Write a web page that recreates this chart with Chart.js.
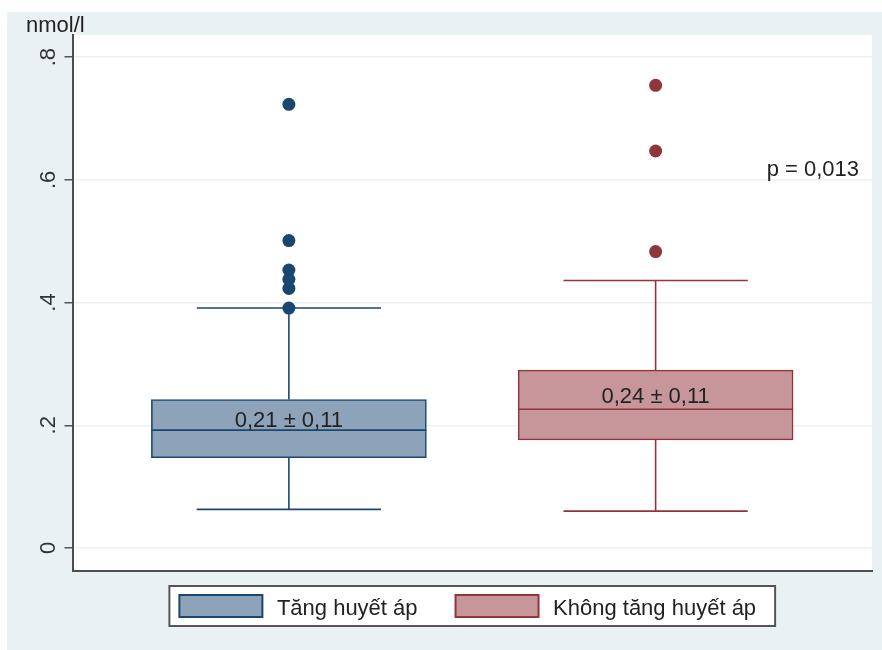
<!DOCTYPE html>
<html>
<head>
<meta charset="utf-8">
<script src="https://cdn.jsdelivr.net/npm/chart.js@4/dist/chart.umd.min.js"></script>
<style>
  html, body { margin: 0; padding: 0; background: #fff; }
  #wrap { width: 882px; height: 650px; }
</style>
</head>
<body>
<div id="wrap"><canvas id="boxChart" width="882" height="650"></canvas></div>
<script>
// groups and box-plot values (nmol/l)
const groups = ['Tăng huyết áp', 'Không tăng huyết áp'];
const xPos = [1, 2];
const lowerWhisker = [0.063, 0.060];
const q1 = [0.147, 0.176];
const median = [0.192, 0.226];
const q3 = [0.242, 0.290];
const upperWhisker = [0.391, 0.436];
const outliersHtn = [0.723, 0.501, 0.453, 0.438, 0.423, 0.391];
const outliersNoHtn = [0.754, 0.647, 0.483];
const meanLabels = ['0,21 ± 0,11', '0,24 ± 0,11'];
const meanLabelY = [0.21, 0.249];
const pValueText = 'p = 0,013';
const yUnit = 'nmol/l';
const yTicks = [0, 0.2, 0.4, 0.6, 0.8];
const yTickLabels = ['0', '.2', '.4', '.6', '.8'];

const lineColors = ['#1a476f', '#90353b'];
const fillColors = ['#8ca3b9', '#c7969a'];
const FONT = '22px "Liberation Sans", Arial, sans-serif';

const boxPlotPlugin = {
    id: 'boxPlot',
    beforeDraw(chart) {
        const ctx = chart.ctx;
        const a = chart.chartArea;
        ctx.save();
        ctx.fillStyle = '#ffffff';
        ctx.fillRect(0, 0, chart.width, chart.height);
        ctx.fillStyle = '#eaf1f3';
        ctx.fillRect(7, 12, chart.width - 7, chart.height - 12);
        ctx.fillStyle = '#ffffff';
        ctx.fillRect(a.left, a.top, a.right - a.left, a.bottom - a.top);
        ctx.restore();
    },
    beforeDatasetsDraw(chart) {
        // whiskers and caps
        const ctx = chart.ctx;
        const xs = chart.scales.x, ys = chart.scales.y;
        ctx.save();
        ctx.lineWidth = 1.6;
        groups.forEach((g, i) => {
            const bar = chart.getDatasetMeta(2 + i).data[0];
            const x = xs.getPixelForValue(xPos[i]);
            const half = bar.width * 0.335;
            const yu = ys.getPixelForValue(upperWhisker[i]);
            const yl = ys.getPixelForValue(lowerWhisker[i]);
            ctx.strokeStyle = lineColors[i];
            ctx.beginPath();
            ctx.moveTo(x, ys.getPixelForValue(q3[i]));
            ctx.lineTo(x, yu);
            ctx.moveTo(x, ys.getPixelForValue(q1[i]));
            ctx.lineTo(x, yl);
            ctx.moveTo(x - half, yu);
            ctx.lineTo(x + half, yu);
            ctx.moveTo(x - half, yl);
            ctx.lineTo(x + half, yl);
            ctx.stroke();
        });
        ctx.restore();
    },
    afterDatasetsDraw(chart) {
        const ctx = chart.ctx;
        const xs = chart.scales.x, ys = chart.scales.y;
        const a = chart.chartArea;
        ctx.save();
        // median lines + mean labels
        groups.forEach((g, i) => {
            const bar = chart.getDatasetMeta(2 + i).data[0];
            const y = ys.getPixelForValue(median[i]);
            ctx.strokeStyle = lineColors[i];
            ctx.lineWidth = 1.6;
            ctx.beginPath();
            ctx.moveTo(bar.x - bar.width / 2, y);
            ctx.lineTo(bar.x + bar.width / 2, y);
            ctx.stroke();
            ctx.fillStyle = '#222';
            ctx.font = FONT;
            ctx.textAlign = 'center';
            ctx.textBaseline = 'alphabetic';
            ctx.fillText(meanLabels[i], xs.getPixelForValue(xPos[i]), ys.getPixelForValue(meanLabelY[i]) + 8);
        });

        // y tick labels, rotated
        ctx.fillStyle = '#333';
        ctx.font = FONT;
        yTicks.forEach((v, i) => {
            const y = ys.getPixelForValue(v);
            ctx.save();
            ctx.translate(a.left - 17.5, y);
            ctx.rotate(-Math.PI / 2);
            ctx.textAlign = 'center';
            ctx.textBaseline = 'alphabetic';
            ctx.fillText(yTickLabels[i], 0, 0);
            ctx.restore();
        });

        // unit and p value
        ctx.fillStyle = '#222';
        ctx.textAlign = 'left';
        ctx.textBaseline = 'alphabetic';
        ctx.fillText(yUnit, 26, 32);
        ctx.textAlign = 'right';
        ctx.fillText(pValueText, a.right - 13, ys.getPixelForValue(0.607));

        // legend
        ctx.font = FONT;
        const sw = 83, sh = 22, gapText = 14.5, gapItem = 38, padL = 10, padR = 19;
        const widths = groups.map(t => ctx.measureText(t).width);
        let total = padL + padR + gapItem;
        widths.forEach(w => { total += sw + gapText + w; });
        const left = (a.left + a.right) / 2 - total / 2;
        const top = 586, h = 40;
        ctx.fillStyle = '#ffffff';
        ctx.fillRect(left, top, total, h);
        ctx.strokeStyle = '#555';
        ctx.lineWidth = 2;
        ctx.strokeRect(left, top, total, h);
        let x = left + padL;
        groups.forEach((t, i) => {
            ctx.fillStyle = fillColors[i];
            ctx.fillRect(x, top + 9, sw, sh);
            ctx.strokeStyle = lineColors[i];
            ctx.lineWidth = 2;
            ctx.strokeRect(x, top + 9, sw, sh);
            x += sw + gapText;
            ctx.fillStyle = '#222';
            ctx.textAlign = 'left';
            ctx.fillText(t, x, top + 29);
            x += widths[i] + gapItem;
        });
        ctx.restore();
    }
};

const datasets = [
    {
        type: 'scatter',
        label: groups[0] + ' outliers',
        data: outliersHtn.map(v => ({ x: xPos[0], y: v })),
        backgroundColor: lineColors[0],
        borderWidth: 0,
        pointRadius: 6.5,
        pointHoverRadius: 6.5
    },
    {
        type: 'scatter',
        label: groups[1] + ' outliers',
        data: outliersNoHtn.map(v => ({ x: xPos[1], y: v })),
        backgroundColor: lineColors[1],
        borderWidth: 0,
        pointRadius: 6.5,
        pointHoverRadius: 6.5
    }
];
groups.forEach((g, i) => {
    datasets.push({
        type: 'bar',
        label: g,
        data: [{ x: xPos[i], y: [q1[i], q3[i]] }],
        backgroundColor: fillColors[i],
        borderColor: lineColors[i],
        borderWidth: 1.6,
        borderSkipped: false,
        barThickness: 275,
        grouped: false
    });
});

new Chart(document.getElementById('boxChart'), {
    type: 'bar',
    data: { datasets: datasets },
    options: {
        responsive: false,
        animation: false,
        layout: { padding: { top: 35, right: 10, left: 0, bottom: 0 } },
        plugins: {
            legend: { display: false },
            tooltip: { enabled: false }
        },
        scales: {
            x: {
                type: 'linear',
                offset: false,
                min: 0.41,
                max: 2.59,
                grid: { display: false },
                ticks: { display: false },
                border: { display: true, color: '#4d4d4d', width: 2 },
                afterFit(scale) { scale.height = 79; }
            },
            y: {
                min: -0.0375,
                max: 0.836,
                ticks: { display: false },
                afterBuildTicks(scale) { scale.ticks = yTicks.map(v => ({ value: v })); },
                grid: { color: '#eaf1f3', lineWidth: 1.5, tickColor: '#555', tickLength: 8, tickWidth: 1.5 },
                border: { display: true, color: '#4d4d4d', width: 2 },
                afterFit(scale) { scale.width = 72.5; }
            }
        }
    },
    plugins: [boxPlotPlugin]
});
</script>
</body>
</html>
